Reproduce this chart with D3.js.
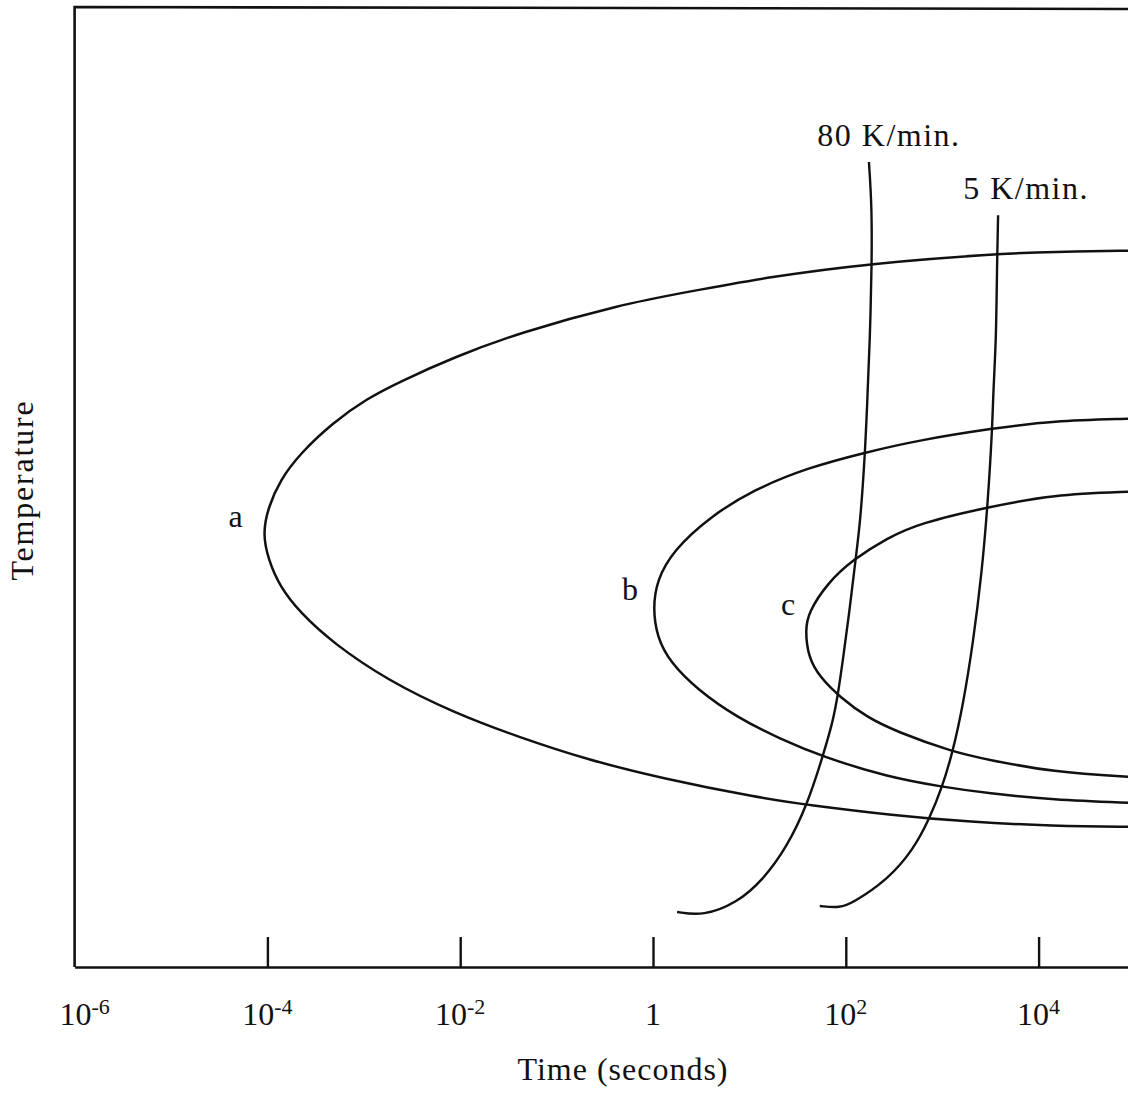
<!DOCTYPE html>
<html>
<head>
<meta charset="utf-8">
<script src="https://cdn.jsdelivr.net/npm/d3@7"></script>
<style>
  html, body { margin: 0; padding: 0; background: #fff; }
  svg { display: block; }
  text { font-family: "Liberation Serif", "Times New Roman", serif; fill: #111; }
</style>
</head>
<body>
<svg id="chart" width="1128" height="1102"></svg>
<script>
// Time–temperature–transformation sketch: three C-curves (a, b, c) and two cooling paths.
// Times are given as log10(seconds); temperature is in relative units (no scale drawn).

const tickExponents = [-4, -2, 0, 2, 4];
const labelExponents = [-6, -4, -2, 0, 2, 4];

// C-curve a
const aLogTime = [5.2, 4.93, 4.15, 3.57, 2.27, 1.21, 0.35, -0.34, -1.38, -2.07, -2.62, -2.97, -3.32, -3.66, -3.87, -3.99, -4.05,
                  -3.99, -3.87, -3.66, -3.32, -2.76, -2.07, -1.38, -0.68, 0.07, 1.11, 1.60, 2.49, 3.29, 4.15, 4.93, 5.2];
const aTemp    = [74.7, 74.6, 74.5, 74.3, 73.3, 71.9, 70.3, 69.0, 66.1, 63.5, 61.0, 59.2, 56.7, 53.5, 50.7, 47.9, 45.2,
                  42.4, 39.6, 36.9, 33.75, 29.9, 26.5, 23.9, 21.6, 19.7, 17.6, 16.9, 15.8, 15.1, 14.7, 14.6, 14.6];

// C-curve b
const bLogTime = [5.2, 4.93, 4.15, 3.52, 2.77, 2.20, 1.60, 1.04, 0.59, 0.21, 0.04, 0.00,
                  0.04, 0.18, 0.46, 0.87, 1.32, 1.76, 2.43, 3.01, 3.47, 4.15, 4.93, 5.2];
const bTemp    = [57.2, 57.1, 56.9, 56.1, 54.9, 53.6, 52.0, 49.7, 46.9, 43.4, 40.3, 37.4,
                  34.4, 31.7, 28.9, 26.0, 23.75, 21.9, 19.8, 18.75, 18.1, 17.4, 17.1, 17.0];

// C-curve c
const cLogTime = [5.2, 4.93, 4.15, 3.47, 2.77, 2.43, 2.07, 1.81, 1.61, 1.58,
                  1.61, 1.73, 1.94, 2.22, 2.53, 3.11, 3.47, 4.15, 4.93, 5.2];
const cTemp    = [49.6, 49.5, 49.2, 47.9, 46.25, 44.7, 42.4, 40.0, 36.9, 35.1,
                  32.3, 30.2, 28.1, 26.0, 24.5, 22.4, 21.6, 20.3, 19.8, 19.7];

// Cooling path at 80 K/min
const fastLogTime = [2.24, 2.27, 2.27, 2.25, 2.22, 2.20, 2.15, 2.10, 2.04, 1.97, 1.92, 1.87, 1.76, 1.60, 1.39, 1.14, 0.87, 0.52, 0.25];
const fastTemp    = [83.85, 79.2, 73.3, 65.3, 58.3, 53.6, 46.25, 42.4, 37.2, 32.0, 28.5, 25.7, 21.9, 16.9, 12.5, 9.06, 6.67, 5.31, 5.73];

// Cooling path at 5 K/min
const slowLogTime = [3.58, 3.57, 3.56, 3.53, 3.52, 3.47, 3.41, 3.32, 3.22, 3.11, 3.00, 2.87, 2.70, 2.43, 2.07, 1.94, 1.73];
const slowTemp    = [78.3, 74.2, 65.3, 60.1, 56.1, 47.9, 41.0, 33.75, 27.5, 22.4, 18.75, 15.5, 12.2, 9.06, 6.67, 6.15, 6.35];

const curveLabels = ["a", "b", "c"];
const rateLabels = ["80 K/min.", "5 K/min."];

const svg = d3.select("#chart");
const W = 1128, H = 1102;
const plot = { left: 74.6, top: 7, bottom: 967 };

const x = d3.scaleLog().domain([1e-6, 1e5]).range([plot.left, plot.left + 11 * 96.4]);
const y = d3.scaleLinear().domain([0, 100]).range([plot.bottom, plot.top]);

const toPts = (lt, tv) => lt.map((v, i) => [Math.pow(10, v), tv[i]]);
const line = d3.line()
  .x(d => x(d[0]))
  .y(d => y(d[1]))
  .curve(d3.curveBasis);

svg.append("rect").attr("width", W).attr("height", H).attr("fill", "#fff");

svg.append("defs").append("clipPath").attr("id", "clip")
  .append("rect").attr("x", plot.left).attr("y", plot.top).attr("width", W - plot.left).attr("height", plot.bottom - plot.top);

// frame: top and left edges, open to the right
const xr = x.range()[1];
svg.append("path")
  .attr("d", `M${xr},${plot.top + 2} L${plot.left},${plot.top} L${plot.left},${plot.bottom}`)
  .attr("fill", "none").attr("stroke", "#111").attr("stroke-width", 2.6);

// bottom axis with inward ticks
const xAxis = d3.axisBottom(x)
  .tickValues(tickExponents.map(e => Math.pow(10, e)))
  .tickSize(-30)
  .tickSizeOuter(0)
  .tickFormat("");
const gx = svg.append("g").attr("transform", `translate(0,${plot.bottom})`).call(xAxis);
gx.select(".domain").attr("stroke", "#111").attr("stroke-width", 2.6);
gx.selectAll(".tick line").attr("stroke", "#111").attr("stroke-width", 2.4);

// tick labels as powers of ten
const lab = svg.append("g");
labelExponents.forEach((e, i) => {
  const t = lab.append("text")
    .attr("x", x(Math.pow(10, e)) + (i === 0 ? 10 : 0))
    .attr("y", 1025)
    .attr("text-anchor", "middle")
    .attr("font-size", 32);
  if (e === 0) {
    t.text("1");
  } else {
    t.append("tspan").text("10");
    t.append("tspan").attr("font-size", 22).attr("dy", -11).text(String(e));
  }
});

svg.append("text").attr("x", 623).attr("y", 1080).attr("text-anchor", "middle")
  .attr("font-size", 32).attr("letter-spacing", 1).text("Time (seconds)");

svg.append("text").attr("transform", "translate(33,490) rotate(-90)").attr("text-anchor", "middle")
  .attr("font-size", 32).attr("letter-spacing", 1.8).text("Temperature");

// curves
const g = svg.append("g").attr("clip-path", "url(#clip)");
const series = [toPts(aLogTime, aTemp), toPts(bLogTime, bTemp), toPts(cLogTime, cTemp)];
series.forEach(s => {
  g.append("path").attr("d", line(s)).attr("fill", "none").attr("stroke", "#111").attr("stroke-width", 2.5);
});
[toPts(fastLogTime, fastTemp), toPts(slowLogTime, slowTemp)].forEach(s => {
  g.append("path").attr("d", line(s)).attr("fill", "none").attr("stroke", "#111").attr("stroke-width", 2.4);
});

// curve letters beside each nose
const noseIdx = [16, 11, 9];
const letterGap = [20, 15, 10];
const letterRise = [6, 8, 15];
const lettersData = [aLogTime, bLogTime, cLogTime];
const lettersTemp = [aTemp, bTemp, cTemp];
curveLabels.forEach((l, i) => {
  const k = noseIdx[i];
  svg.append("text")
    .attr("x", x(Math.pow(10, lettersData[i][k])) - letterGap[i])
    .attr("y", y(lettersTemp[i][k]) - letterRise[i])
    .attr("text-anchor", "end")
    .attr("font-size", 32)
    .text(l);
});

// rate labels above the cooling paths
const rateTops = [[fastLogTime[0], fastTemp[0]], [slowLogTime[0], slowTemp[0]]];
const rateShift = [20, 28];
rateLabels.forEach((l, i) => {
  svg.append("text")
    .attr("x", x(Math.pow(10, rateTops[i][0])) + rateShift[i])
    .attr("y", y(rateTops[i][1]) - 16)
    .attr("text-anchor", "middle")
    .attr("font-size", 32)
    .attr("letter-spacing", 1.5)
    .text(l);
});
</script>
</body>
</html>
